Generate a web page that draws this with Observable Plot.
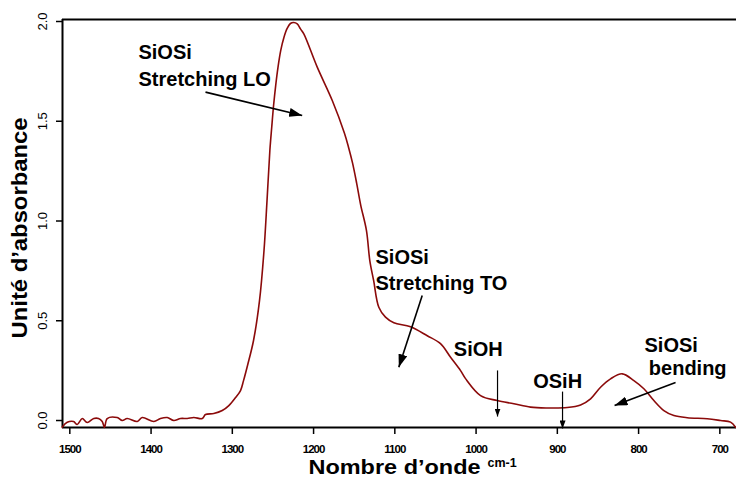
<!DOCTYPE html>
<html><head><meta charset="utf-8">
<script src="https://cdn.jsdelivr.net/npm/d3@7"></script>
<script src="https://cdn.jsdelivr.net/npm/@observablehq/plot@0.6"></script>
<style>
body{margin:0;background:#fff;}
#chart svg{display:block;}
.xtick text{letter-spacing:-1px;}
</style></head><body><div id="chart"></div>
<script>
// Spectrum (wavenumber cm-1, absorbance)
const wavenumber = [1509.4,1503.2,1495.4,1490.9,1484.7,1478.6,1470.5,1464.7,1460.1,1457.3,1454.0,1441.7,1435.5,1429.4,1417.0,1410.9,1396.6,1388.4,1380.1,1372.0,1363.7,1355.5,1347.4,1337.0,1333.0,1322.8,1312.4,1304.3,1296.0,1289.9,1286.2,1281.3,1273.9,1266.5,1261.0,1257.3,1253.8,1251.5,1249.2,1246.6,1243.8,1240.4,1236.5,1232.5,1228.5,1224.4,1220.1,1216.1,1212.0,1195.5,1177.0,1162.0,1157.0,1152.0,1147.0,1142.0,1134.9,1130.8,1126.1,1119.7,1111.5,1101.2,1080.7,1060.1,1043.8,1031.4,1019.1,1013.0,994.5,974.0,953.5,933.0,912.4,887.8,871.4,859.1,846.8,834.5,820.1,805.8,793.5,781.2,768.9,756.6,740.1,715.5,699.1,686.8,680.6];
const absorbance = [-0.034,-0.009,-0.005,-0.020,0.010,-0.010,0.010,0.010,-0.005,-0.035,0.010,0.015,0.000,0.010,-0.005,0.015,-0.005,0.010,0.015,0.000,0.010,0.010,0.015,0.010,0.030,0.035,0.050,0.075,0.115,0.150,0.200,0.276,0.401,0.602,0.852,1.102,1.353,1.470,1.580,1.680,1.770,1.855,1.920,1.965,1.990,1.995,1.988,1.963,1.938,1.771,1.604,1.440,1.370,1.290,1.190,1.080,0.952,0.802,0.702,0.568,0.518,0.490,0.470,0.425,0.385,0.317,0.250,0.210,0.125,0.100,0.084,0.067,0.063,0.065,0.078,0.109,0.167,0.209,0.234,0.200,0.159,0.100,0.050,0.025,0.014,0.009,0.000,-0.008,-0.034];

const xTicks = [1500,1400,1300,1200,1100,1000,900,800,700];
const yTicks = [0,0.5,1,1.5,2];
const xDomain = [1509, 679.5];
const yDomain = [-0.035, 2.01];

// Annotation labels (data coordinates)
const labelText = ["SiOSi","Stretching LO","SiOSi","Stretching TO","SiOH","OSiH","SiOSi","bending"];
const labelWn   = [1415.5,1415.5,1123.8,1123.8,1027.4,929.7,792.7,787.4];
const labelAbs  = [1.842,1.709,0.817,0.687,0.356,0.196,0.378,0.261];

// Arrows (data coordinates) — large heads
const bigArrowWn1  = [1333.0,1066.3,754.5];
const bigArrowAbs1 = [1.646,0.627,0.191];
const bigArrowWn2  = [1214.0,1095.1,829.6];
const bigArrowAbs2 = [1.529,0.267,0.075];
// small heads
const smallArrowWn  = [973.6,893.6];
const smallArrowAbs1 = [0.251,0.145];
const smallArrowAbs2 = [0.020,-0.040];

const xTitle = "Nombre d’onde";
const xUnit = "cm-1";
const yTitle = "Unité d’absorbance";

const spectrum = wavenumber.map((w,i)=>({w, a: absorbance[i]}));
const labels = labelText.map((t,i)=>({t, w: labelWn[i], a: labelAbs[i]}));
const bigArrows = bigArrowWn1.map((w,i)=>({w1:w, a1:bigArrowAbs1[i], w2:bigArrowWn2[i], a2:bigArrowAbs2[i]}));
const smallArrows = smallArrowWn.map((w,i)=>({w1:w, a1:smallArrowAbs1[i], w2:w, a2:smallArrowAbs2[i]}));

const font = "Liberation Sans, Arial, Helvetica, sans-serif";

const plot = Plot.plot({
  width: 736, height: 477,
  marginLeft: 62, marginRight: 0, marginTop: 19, marginBottom: 50,
  style: {fontFamily: font, background: "white", color: "black"},
  x: {domain: xDomain, label: null},
  y: {domain: yDomain, label: null},
  marks: [
    Plot.ruleY([yDomain[1]], {stroke: "black", strokeWidth: 2}),
    Plot.ruleY([yDomain[0]], {stroke: "black", strokeWidth: 2}),
    Plot.ruleX([xDomain[0]], {stroke: "black", strokeWidth: 2}),
    Plot.axisY({ticks: yTicks, tickSize: 6, tickFormat: () => "", label: null, stroke: "black", strokeWidth: 1.5}),
    Plot.axisX({ticks: xTicks, tickSize: 7, tickFormat: () => "", label: null, stroke: "black", strokeWidth: 1.5}),
    Plot.text(yTicks, {y: d => d, text: d => d.toFixed(1), frameAnchor: "left", dx: -20, rotate: -90,
      textAnchor: "middle", lineAnchor: "middle", fontSize: 13, fill: "black"}),
    Plot.text(xTicks, {x: d => d, text: d => String(d), frameAnchor: "bottom", dy: 21.5,
      textAnchor: "middle", lineAnchor: "middle", fontSize: 11.5, fontWeight: "bold", fill: "black", className: "xtick"}),
    Plot.line(spectrum, {x: "w", y: "a", stroke: "#8b0a0a", strokeWidth: 1.6, curve: "catmull-rom"}),
    Plot.text(labels, {x: "w", y: "a", text: "t", textAnchor: "start", lineAnchor: "middle",
      fontSize: 20, fontWeight: "bold", fill: "black"}),
    Plot.link(bigArrows, {x1: "w1", y1: "a1", x2: "w2", y2: "a2", stroke: "black", strokeWidth: 1.6, className: "arrowbig"}),
    Plot.link(smallArrows, {x1: "w1", y1: "a1", x2: "w2", y2: "a2", stroke: "black", strokeWidth: 1.2, className: "arrowsmall"}),
    Plot.text([xTitle], {text: d => d, frameAnchor: "bottom", dx: -5, dy: 40, textAnchor: "middle", lineAnchor: "middle",
      fontSize: 20, fontWeight: "bold", fill: "black", className: "xtitle"}),
    Plot.text([xUnit], {text: d => d, frameAnchor: "bottom", dx: 88, dy: 35, textAnchor: "start", lineAnchor: "middle",
      fontSize: 12.5, fontWeight: "bold", fill: "black"}),
    Plot.text([yTitle], {text: d => d, frameAnchor: "left", dx: -43, dy: 4.5, rotate: -90, textAnchor: "middle", lineAnchor: "middle",
      fontSize: 22, fontWeight: "bold", fill: "black", className: "ytitle"})
  ]
});

const svg = d3.select(plot.tagName.toLowerCase() === "svg" ? plot : plot.querySelector("svg"));
const defs = svg.append("defs");
function marker(id, len, wid){
  defs.append("marker").attr("id", id)
    .attr("viewBox", `0 0 ${len} ${wid}`).attr("refX", len).attr("refY", wid/2)
    .attr("markerWidth", len).attr("markerHeight", wid)
    .attr("markerUnits", "userSpaceOnUse").attr("orient", "auto")
    .append("path").attr("d", `M0,0L${len},${wid/2}L0,${wid}Z`).attr("fill", "black");
}
marker("headBig", 13, 9);
marker("headSmall", 8, 6);
svg.selectAll("g.arrowbig path").attr("marker-end", "url(#headBig)");
svg.selectAll("g.arrowsmall path").attr("marker-end", "url(#headSmall)");
svg.selectAll("g.xtitle text").attr("textLength", 172).attr("lengthAdjust", "spacingAndGlyphs");
svg.selectAll("g.ytitle text").attr("textLength", 221).attr("lengthAdjust", "spacingAndGlyphs");

document.getElementById("chart").appendChild(plot);
</script></body></html>
